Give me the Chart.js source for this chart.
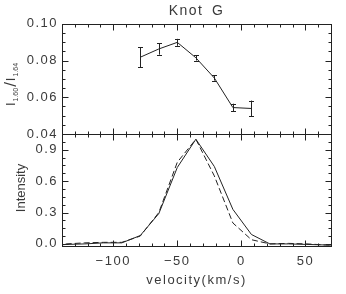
<!DOCTYPE html>
<html lang="en">
<head>
<meta charset="UTF-8">
<title>Knot G</title>
<script src="https://cdn.jsdelivr.net/npm/chart.js"></script>
<style>
    body, html { margin: 0; background: #fff; }
    #wrap { position: relative; width: 346px; height: 294px; }
    canvas { position: absolute; left: 0; top: 0; }
</style>
</head>
<body>
<div id="wrap">
    <canvas id="ratioChart" width="346" height="294"></canvas>
    <canvas id="profileChart" width="346" height="294"></canvas>
</div>
<script>
    // velocity channels (km/s)
    const velocity = [-151.1, -136.7, -122.2, -107.8, -93.3, -78.9, -64.4, -50.0, -35.5, -21.1, -6.6, 7.9, 22.3, 36.8, 51.2, 65.7, 80.1];
    const intensitySolid = [-0.02, -0.005, 0.0, 0.01, 0.01, 0.08, 0.29, 0.73, 1.0, 0.74, 0.33, 0.09, 0.0, 0.0, -0.005, -0.01, -0.015];
    const intensityDashed = [-0.02, 0.0, 0.01, 0.015, 0.015, 0.075, 0.30, 0.78, 1.0, 0.65, 0.2, 0.04, 0.0, 0.005, 0.0, -0.01, -0.015];

    // line ratio I(1.60)/I(1.64)
    const ratioVelocity = [-78.9, -64.4, -50.0, -35.5, -21.1, -6.6, 7.9];
    const ratioValues = [0.0818, 0.0863, 0.0899, 0.0815, 0.0705, 0.0544, 0.0539];
    const ratioErrors = [0.0054, 0.0031, 0.0019, 0.0015, 0.0014, 0.0021, 0.0043];

    const velocityTicks = [-100, -50, 0, 50];
    const ratioTicks = [0.04, 0.06, 0.08, 0.10];
    const intensityTicks = [0.0, 0.3, 0.6, 0.9];

    const FONT = "'Liberation Sans', Arial, sans-serif";
    const INK = '#222';
    const TEXT = '#3a3a3a';

    // IDL-like frame: box with inward ticks on all four sides
    function idlFrame(yMinor, yMajor, drawLabel) {
        return {
            id: 'idlFrame',
            beforeDraw(chart) {
                chart.ctx.letterSpacing = '1.5px';
                chart.ctx.wordSpacing = '3px';
            },
            afterDraw(chart) {
                const ctx = chart.ctx;
                const a = chart.chartArea;
                const xs = chart.scales.x, ys = chart.scales.y;
                const L = Math.round(a.left) + 0.5, R = Math.round(a.right) + 0.5;
                const T = Math.round(a.top) + 0.5, B = Math.round(a.bottom) + 0.5;
                ctx.save();
                ctx.letterSpacing = '0px';
                ctx.wordSpacing = '0px';
                ctx.strokeStyle = INK;
                ctx.lineWidth = 1;
                ctx.strokeRect(L, T, R - L, B - T);
                ctx.beginPath();
                for (let v = Math.ceil(xs.min / 10) * 10; v <= xs.max; v += 10) {
                    const x = Math.round(xs.getPixelForValue(v)) + 0.5;
                    const len = v % 50 === 0 ? 6 : 3;
                    ctx.moveTo(x, T); ctx.lineTo(x, T + len);
                    ctx.moveTo(x, B); ctx.lineTo(x, B - len);
                }
                const n0 = Math.ceil(ys.min / yMinor - 1e-6), n1 = Math.floor(ys.max / yMinor + 1e-6);
                for (let i = n0; i <= n1; i++) {
                    const v = i * yMinor;
                    const y = Math.round(ys.getPixelForValue(v)) + 0.5;
                    const r = v / yMajor;
                    const len = Math.abs(r - Math.round(r)) < 1e-6 ? 6 : 3;
                    ctx.moveTo(L, y); ctx.lineTo(L + len, y);
                    ctx.moveTo(R, y); ctx.lineTo(R - len, y);
                }
                ctx.stroke();
                ctx.fillStyle = TEXT;
                drawLabel(ctx);
                ctx.restore();
            }
        };
    }

    const errorBars = {
        id: 'errorBars',
        afterDatasetsDraw(chart) {
            const ctx = chart.ctx, xs = chart.scales.x, ys = chart.scales.y;
            ctx.save();
            ctx.strokeStyle = INK;
            ctx.lineWidth = 1;
            ctx.beginPath();
            ratioVelocity.forEach((v, i) => {
                const x = Math.round(xs.getPixelForValue(v)) + 0.5;
                const y0 = ys.getPixelForValue(ratioValues[i] - ratioErrors[i]);
                const y1 = ys.getPixelForValue(ratioValues[i] + ratioErrors[i]);
                ctx.moveTo(x, y0); ctx.lineTo(x, y1);
                ctx.moveTo(x - 2.5, Math.round(y0) + 0.5); ctx.lineTo(x + 2.5, Math.round(y0) + 0.5);
                ctx.moveTo(x - 2.5, Math.round(y1) + 0.5); ctx.lineTo(x + 2.5, Math.round(y1) + 0.5);
            });
            ctx.stroke();
            ctx.restore();
        }
    };

    function ratioLabel(ctx) {
        const parts = [
            { t: 'I', size: 13, dy: 15 },
            { t: '1.60', size: 7, dy: 18 },
            { t: '/', size: 17, dy: 16 },
            { t: 'I', size: 13, dy: 15 },
            { t: '1.64', size: 7, dy: 18 }
        ];
        ctx.save();
        ctx.translate(0, 84);
        ctx.rotate(-Math.PI / 2);
        ctx.textBaseline = 'alphabetic';
        ctx.textAlign = 'left';
        let total = 0;
        parts.forEach(p => { ctx.font = p.size + 'px ' + FONT; p.w = ctx.measureText(p.t).width + 1; total += p.w; });
        let u = -total / 2;
        parts.forEach(p => { ctx.font = p.size + 'px ' + FONT; ctx.fillText(p.t, u, p.dy); u += p.w; });
        ctx.restore();
    }

    function intensityLabel(ctx) {
        ctx.save();
        ctx.translate(21, 188);
        ctx.rotate(-Math.PI / 2);
        ctx.font = '13px ' + FONT;
        ctx.textAlign = 'center';
        ctx.textBaseline = 'middle';
        ctx.fillText('Intensity', 0, 0);
        ctx.restore();
    }

    const tickFont = { family: FONT, size: 13 };

    new Chart(document.getElementById('ratioChart').getContext('2d'), {
        type: 'line',
        data: {
            datasets: [{
                data: ratioVelocity.map((v, i) => ({ x: v, y: ratioValues[i] })),
                borderColor: INK,
                borderWidth: 1,
                pointRadius: 0,
                fill: false
            }]
        },
        options: {
            responsive: false,
            animation: false,
            layout: { padding: { left: 0, right: 15, top: 0, bottom: 160 } },
            plugins: {
                legend: { display: false },
                tooltip: { enabled: false },
                title: {
                    display: true,
                    fullSize: false,
                    text: 'Knot G',
                    color: TEXT,
                    font: { family: FONT, size: 14, weight: 'normal' },
                    padding: { top: 3, bottom: 4 }
                }
            },
            scales: {
                x: { type: 'linear', min: -140, max: 70, display: false },
                y: {
                    min: 0.04, max: 0.10,
                    afterFit(s) { s.width = 62; },
                    afterBuildTicks(s) { s.ticks = ratioTicks.map(v => ({ value: v })); },
                    ticks: { padding: 4, color: TEXT, font: tickFont, callback: v => v.toFixed(2) },
                    grid: { display: false, drawTicks: false },
                    border: { display: false }
                }
            }
        },
        plugins: [idlFrame(0.005, 0.02, ratioLabel), errorBars]
    });

    new Chart(document.getElementById('profileChart').getContext('2d'), {
        type: 'line',
        data: {
            datasets: [{
                data: velocity.map((v, i) => ({ x: v, y: intensitySolid[i] })),
                borderColor: INK,
                borderWidth: 1,
                pointRadius: 0,
                fill: false
            }, {
                data: velocity.map((v, i) => ({ x: v, y: intensityDashed[i] })),
                borderColor: INK,
                borderWidth: 1,
                borderDash: [6, 3],
                pointRadius: 0,
                fill: false
            }]
        },
        options: {
            responsive: false,
            animation: false,
            layout: { padding: { left: 0, right: 15, top: 134, bottom: 0 } },
            plugins: { legend: { display: false }, tooltip: { enabled: false } },
            scales: {
                x: {
                    type: 'linear', min: -140, max: 70,
                    afterFit(s) { s.height = 48; },
                    afterBuildTicks(s) { s.ticks = velocityTicks.map(v => ({ value: v })); },
                    ticks: { padding: 8, color: TEXT, font: tickFont, maxRotation: 0, callback: v => String(v).replace('-', '\u2212') },
                    grid: { display: false, drawTicks: false },
                    border: { display: false },
                    title: { display: true, text: 'velocity(km/s)', color: TEXT, font: tickFont, padding: { top: 0, bottom: 6 } }
                },
                y: {
                    min: -0.02, max: 1.05,
                    afterFit(s) { s.width = 62; },
                    afterBuildTicks(s) { s.ticks = intensityTicks.map(v => ({ value: v })); },
                    ticks: { padding: 4, color: TEXT, font: tickFont, callback: v => v.toFixed(1) },
                    grid: { display: false, drawTicks: false },
                    border: { display: false }
                }
            }
        },
        plugins: [idlFrame(0.075, 0.3, intensityLabel)]
    });
</script>
</body>
</html>
